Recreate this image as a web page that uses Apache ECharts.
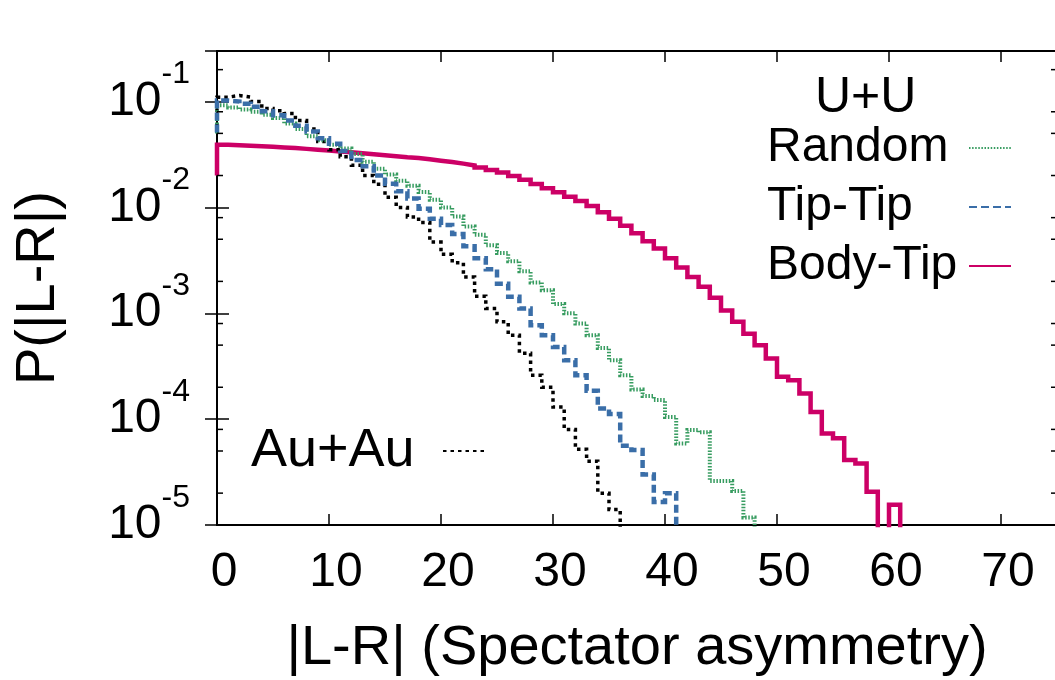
<!DOCTYPE html>
<html>
<head>
<meta charset="utf-8">
<script src="https://cdn.jsdelivr.net/npm/echarts@6.0.0/dist/echarts.min.js"></script>
<style>
html,body{margin:0;padding:0;background:#ffffff;}
#c{width:1055px;height:680px;}
</style>
</head>
<body>
<div id="c"></div>
<script>
// ---- data: P(|L-R|) per unit bin; index = |L-R| (value k fills bin [k-1,k]) ----
const EMPTY = 1e-9; // empty bin (zero counts), falls below the log axis
const xTicks = [0, 10, 20, 30, 40, 50, 60, 70];
const yExponents = [-5, -4, -3, -2, -1];
const minorMantissas = [2, 5, 8];

const auau = [0.057, 0.110, 0.114, 0.110, 0.100, 0.086, 0.082, 0.077, 0.066, 0.055,
  0.042, 0.035, 0.030, 0.025, 0.020, 0.0165, 0.0125, 0.0100, 0.0081, 0.0072,
  0.0047, 0.0036, 0.0030, 0.0022, 0.00145, 0.00111, 0.00083, 0.00062, 0.00042, 0.00026,
  0.00020, 0.00013, 0.000080, 0.000052, 0.000040, 0.000020, 0.000014, EMPTY];

const tiptip = [0.051, 0.102, 0.100, 0.095, 0.089, 0.081, 0.074, 0.066, 0.059, 0.052,
  0.045, 0.040, 0.034, 0.028, 0.0245, 0.0200, 0.0167, 0.0142, 0.0121, 0.0097,
  0.0078, 0.0068, 0.0056, 0.0043, 0.0033, 0.0026, 0.0019, 0.00143, 0.00111, 0.00077,
  0.00062, 0.00048, 0.00036, 0.00026, 0.000185, 0.000126, 0.000112, 0.000056, 0.000051, 0.000030,
  0.0000165, 0.0000200, EMPTY];

const random = [0.050, 0.092, 0.088, 0.084, 0.080, 0.075, 0.070, 0.062, 0.055, 0.047,
  0.043, 0.039, 0.036, 0.032, 0.027, 0.0232, 0.0205, 0.0178, 0.0160, 0.0140,
  0.0118, 0.0100, 0.0082, 0.0066, 0.0055, 0.0044, 0.0037, 0.0031, 0.0025, 0.00195,
  0.00165, 0.00122, 0.00100, 0.00080, 0.00062, 0.00047, 0.00036, 0.00026, 0.00019, 0.000165,
  0.000152, 0.000105, 0.000059, 0.000079, 0.000075, 0.000026, 0.000026, 0.000021, 0.0000118, EMPTY];

const bodytip = [0.020, 0.0390, 0.0386, 0.0382, 0.0378, 0.0373, 0.0368, 0.0363, 0.0357, 0.0351,
  0.0345, 0.0338, 0.0332, 0.0325, 0.0318, 0.0311, 0.0304, 0.0297, 0.0292, 0.0285,
  0.0276, 0.0268, 0.0259, 0.0249, 0.0238, 0.0226, 0.0213, 0.0198, 0.0182, 0.0166,
  0.0152, 0.0139, 0.0126, 0.0115, 0.0103, 0.0090, 0.0078, 0.0067, 0.0057, 0.0048,
  0.0041, 0.0033, 0.0027, 0.0022, 0.00178, 0.00140, 0.00106, 0.00083, 0.00064, 0.00050,
  0.000373, 0.000251, 0.000233, 0.000175, 0.000117, 0.000073, 0.000066, 0.000041, 0.000038, 0.0000206,
  EMPTY, 0.0000155, EMPTY];

// ---- chart ----
const FONT = "'Liberation Sans', Arial, Helvetica, sans-serif";
const X_MIN = 0, X_MAX = 75, Y_MIN = 1e-5, Y_MAX = 0.3;
const GREEN = '#379c60', BLUE = '#3a6ea8', MAGENTA = '#cc0066', BLACK = '#000000';

function pts(vals) { return vals.map(function (v, i) { return [i, v]; }); }

function mkSeries(name, vals, color, width, dash, z) {
  return {
    name: name, type: 'line', step: 'start', data: pts(vals),
    symbol: 'none', showSymbol: false, clip: true, animation: false, z: z,
    lineStyle: { color: color, width: width, type: dash, cap: 'butt', join: 'miter' },
    itemStyle: { color: color }
  };
}

const chart = echarts.init(document.getElementById('c'), null, { renderer: 'canvas', width: 1055, height: 680 });

const axisLineStyle = { show: true, lineStyle: { color: '#000', width: 2 } };
const hiddenSymbol = { color: 'rgba(0,0,0,0)', borderColor: 'rgba(0,0,0,0)', borderWidth: 0, opacity: 0 };

const option = {
  backgroundColor: '#ffffff',
  animation: false,
  title: {
    text: 'U+U', left: 810, top: 68,
    textStyle: { fontFamily: FONT, fontSize: 50, fontWeight: 'normal', color: '#000' }
  },
  grid: { left: 217, right: -2, top: 51, bottom: 155, outerBoundsMode: 'none', containLabel: false },
  legend: [
    {
      data: ['Random', 'Tip-Tip', 'Body-Tip'], orient: 'vertical', left: 762, top: 119,
      align: 'right', itemWidth: 42, itemHeight: 14, itemGap: 11, selectedMode: false,
      itemStyle: hiddenSymbol,
      formatter: function (n) { return '{n|' + n + '}'; },
      textStyle: {
        fontFamily: FONT, fontSize: 48, color: '#000',
        rich: { n: { width: 197, align: 'left', fontFamily: FONT, fontSize: 48, lineHeight: 56, color: '#000' } }
      }
    },
    {
      data: ['Au+Au'], orient: 'vertical', left: 246, top: 419,
      align: 'right', itemWidth: 44, itemHeight: 14, selectedMode: false,
      itemStyle: hiddenSymbol,
      formatter: function (n) { return '{n|' + n + '}'; },
      textStyle: {
        fontFamily: FONT, fontSize: 54, color: '#000',
        rich: { n: { width: 187, align: 'left', fontFamily: FONT, fontSize: 54, lineHeight: 56, color: '#000' } }
      }
    }
  ],
  xAxis: [
    {
      type: 'value', min: X_MIN, max: X_MAX, interval: 10, position: 'bottom',
      name: '|L-R| (Spectator asymmetry)', nameLocation: 'middle', nameGap: 96, nameMoveOverlap: false,
      nameTextStyle: { fontFamily: FONT, fontSize: 56, color: '#000' },
      axisLine: axisLineStyle,
      axisTick: { show: true, inside: true, length: 11, lineStyle: { color: '#000', width: 1.5 } },
      splitLine: { show: false },
      axisLabel: {
        margin: 24, color: '#000', fontFamily: FONT, fontSize: 48,
        showMaxLabel: false,
        formatter: function (v) { return xTicks.indexOf(v) >= 0 ? '{a|' + v + '}' : ''; },
        rich: { a: { fontFamily: FONT, fontSize: 48, color: '#000', padding: [0, 0, 0, 14] } }
      }
    },
    {
      type: 'value', min: X_MIN, max: X_MAX, interval: 10, position: 'top',
      axisLine: axisLineStyle,
      axisTick: { show: true, inside: true, length: 11, lineStyle: { color: '#000', width: 1.5 } },
      axisLabel: { show: false }, splitLine: { show: false }
    }
  ],
  yAxis: [
    {
      type: 'log', logBase: 10, min: Y_MIN, max: Y_MAX, position: 'left',
      name: 'P(|L-R|)', nameLocation: 'middle', nameGap: 150, nameMoveOverlap: false,
      nameTextStyle: { fontFamily: FONT, fontSize: 56, color: '#000' },
      axisLine: axisLineStyle,
      axisTick: { show: true, inside: true, length: 12, lineStyle: { color: '#000', width: 1.5 } },
      splitLine: { show: false },
      axisLabel: {
        margin: 27, color: '#000',
        formatter: function (v) {
          const e = Math.log10(v);
          const r = Math.round(e);
          if (Math.abs(e - r) > 1e-6 || yExponents.indexOf(r) < 0) return '';
          return '{b|10}{s|' + r + '}';
        },
        rich: {
          b: { fontFamily: FONT, fontSize: 48, lineHeight: 86, color: '#000' },
          s: { fontFamily: FONT, fontSize: 32, lineHeight: 20, verticalAlign: 'top', color: '#000' }
        }
      }
    },
    {
      type: 'log', logBase: 10, min: Y_MIN, max: Y_MAX, position: 'right',
      axisLine: axisLineStyle,
      axisTick: { show: true, inside: true, length: 12, lineStyle: { color: '#000', width: 1.5 } },
      axisLabel: { show: false }, splitLine: { show: false }
    }
  ],
  series: [
    mkSeries('Au+Au', auau, BLACK, 3.5, [3.5, 4], 3),
    mkSeries('Random', random, GREEN, 4, [1.5, 1.6], 4),
    mkSeries('Tip-Tip', tiptip, BLUE, 4.5, [8, 4], 5),
    mkSeries('Body-Tip', bodytip, MAGENTA, 4.5, 'solid', 2)
  ]
};

chart.setOption(option);

// minor ticks on the log axis (2, 5, 8 x 10^n), placed through the axis scale
const minorVals = [];
yExponents.concat([0]).forEach(function (e) {
  minorMantissas.forEach(function (m) {
    const v = m * Math.pow(10, e - 1);
    if (v > Y_MIN && v < Y_MAX) minorVals.push(v);
  });
});
const xl = chart.convertToPixel({ xAxisIndex: 0 }, X_MIN);
const xr = chart.convertToPixel({ xAxisIndex: 0 }, X_MAX);
const graphics = [];
minorVals.forEach(function (v) {
  const y = chart.convertToPixel({ yAxisIndex: 0 }, v);
  graphics.push({ type: 'line', silent: true, z: 10, shape: { x1: xl, y1: y, x2: xl + 6, y2: y }, style: { stroke: '#000', lineWidth: 1.5 } });
  graphics.push({ type: 'line', silent: true, z: 10, shape: { x1: xr, y1: y, x2: xr - 6, y2: y }, style: { stroke: '#000', lineWidth: 1.5 } });
});
chart.setOption({ graphic: graphics });
</script>
</body>
</html>
